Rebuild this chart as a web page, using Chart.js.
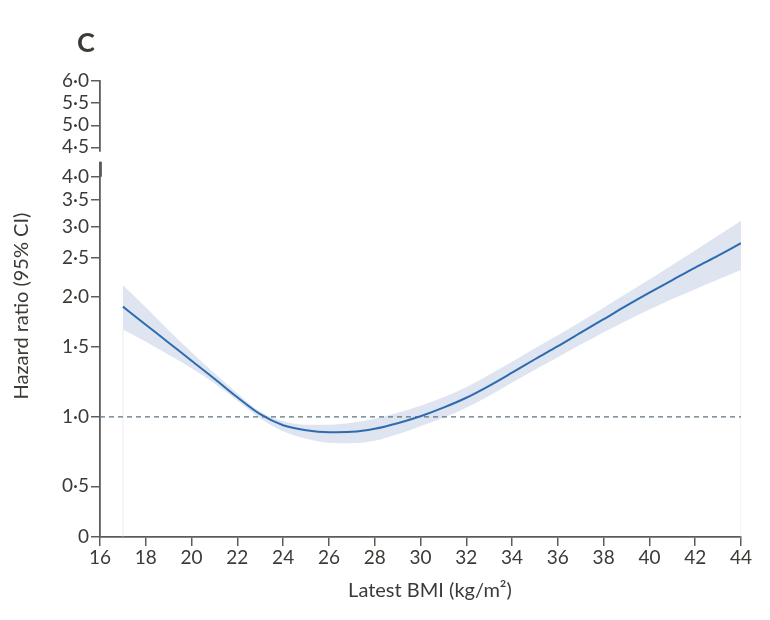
<!DOCTYPE html>
<html>
<head>
<meta charset="utf-8">
<script src="https://cdn.jsdelivr.net/npm/chart.js@4/dist/chart.umd.min.js"></script>
<style>
  html, body { margin: 0; padding: 0; background: #ffffff; }
  #wrap { position: absolute; left: 0; top: 0; width: 770px; height: 620px; }
</style>
</head>
<body>
<div id="wrap"><canvas id="c" width="770" height="620"></canvas></div>
<script>
// ---- Data ----
const bmi = [17,18,19,20,21,22,23,24,25,26,27,28,29,30,31,32,33,34,35,36,37,38,39,40,41,42,43,44];
const hazardRatio = [1.89,1.703,1.535,1.383,1.247,1.12,1.016,0.94,0.904,0.89,0.893,0.915,0.955,1.004,1.055,1.117,1.197,1.291,1.395,1.504,1.627,1.758,1.901,2.049,2.203,2.368,2.537,2.727];
const upperCI = [2.14,1.884,1.65,1.453,1.287,1.147,1.03,0.969,0.944,0.944,0.958,0.987,1.024,1.067,1.12,1.187,1.276,1.376,1.487,1.603,1.733,1.879,2.038,2.209,2.402,2.612,2.848,3.102];
const lowerCI = [1.657,1.544,1.432,1.325,1.215,1.098,0.991,0.897,0.843,0.814,0.81,0.828,0.875,0.933,0.994,1.055,1.13,1.219,1.313,1.412,1.518,1.631,1.743,1.858,1.974,2.091,2.209,2.334];
const referenceHR = 1;
const yTickValues = [0,0.5,1,1.5,2,2.5,3,3.5,4,4.5,5,5.5,6];
const yTickLabels = ["0","0·5","1·0","1·5","2·0","2·5","3·0","3·5","4·0","4·5","5·0","5·5","6·0"];
const axisBreak = [4.255, 4.425];
const xMin = 16, xMax = 44, xStep = 2;

// ---- Axis transform (the printed axis is piecewise: linear below 1, log between 1 and 4, compressed above 4) ----
function interp(v, a) {
  for (let i = 0; i < a.length - 1; i++) {
    if (v <= a[i+1][0]) {
      const t = (v - a[i][0]) / (a[i+1][0] - a[i][0]);
      return a[i][1] + t * (a[i+1][1] - a[i][1]);
    }
  }
  return a[a.length-1][1];
}
const lowAnchors = [[0,0],[0.5,50.7],[1,120]];
const highAnchors = [[4,360],[4.5,389.4],[5,411.4],[5.5,434],[6,455.7]];
function P(v) {
  if (v < 1) return interp(v, lowAnchors);
  if (v <= 4) return 120 + 120 * Math.log2(v);
  return interp(v, highAnchors);
}

const pts = (ys) => bmi.map((x, i) => ({ x: x, y: P(ys[i]) }));

const textColor = '#3d3a36';
const axisColor = '#5c5c5c';
const FONT = 'Lato, "Open Sans", sans-serif';

const titlesPlugin = {
  id: 'titles',
  afterDraw(chart) {
    const ctx = chart.ctx;
    const ys = chart.scales.y, xs = chart.scales.x;
    // axis break between the two y-axis segments
    const xAxis = xs.left;
    const yTop = ys.getPixelForValue(P(axisBreak[1]));
    const yBot = ys.getPixelForValue(P(axisBreak[0]));
    const y4 = ys.getPixelForValue(P(4));
    ctx.save();
    ctx.fillStyle = '#ffffff';
    ctx.fillRect(xAxis - 2, yTop, 4, yBot - yTop);
    ctx.strokeStyle = axisColor;
    ctx.lineWidth = 2.6;
    ctx.beginPath();
    ctx.moveTo(xAxis + 0.6, yBot);
    ctx.lineTo(xAxis + 0.6, y4);
    ctx.stroke();
    ctx.restore();

    ctx.save();
    ctx.fillStyle = textColor;
    ctx.font = 'bold 27px ' + FONT;
    ctx.textAlign = 'left';
    ctx.textBaseline = 'middle';
    ctx.fillText('C', 77, 43);
    ctx.font = '20px ' + FONT;
    ctx.textAlign = 'center';
    ctx.fillText('Latest BMI (kg/m²)', 430, 591);
    ctx.translate(22, 306);
    ctx.rotate(-Math.PI / 2);
    ctx.fillText('Hazard ratio (95% CI)', 0, 0);
    ctx.restore();
  }
};

new Chart(document.getElementById('c'), {
  type: 'line',
  data: {
    datasets: [
      { label: 'HR', order: 0, data: pts(hazardRatio), borderColor: '#2d6bb0', borderWidth: 2, pointRadius: 0, fill: false, cubicInterpolationMode: 'monotone' },
      { label: 'ref', order: 1, data: [{x: xMin, y: P(referenceHR)}, {x: xMax, y: P(referenceHR)}], borderColor: '#5f7380', borderWidth: 1.3, borderDash: [5, 4], pointRadius: 0, fill: false },
      { label: 'upper', order: 2, data: pts(upperCI), borderWidth: 0, borderColor: 'rgba(0,0,0,0)', backgroundColor: '#dee4f0', pointRadius: 0, fill: '+1', cubicInterpolationMode: 'monotone' },
      { label: 'lower', order: 3, data: pts(lowerCI), borderWidth: 0, borderColor: 'rgba(0,0,0,0)', pointRadius: 0, fill: false, cubicInterpolationMode: 'monotone' },
      { label: 'edgeL', order: 4, data: [{x: bmi[0], y: 0}, {x: bmi[0], y: P(lowerCI[0])}], borderColor: 'rgba(214,221,235,0.55)', borderWidth: 1, pointRadius: 0, fill: false },
      { label: 'edgeR', order: 5, data: [{x: bmi[bmi.length-1], y: 0}, {x: bmi[bmi.length-1], y: P(lowerCI[lowerCI.length-1])}], borderColor: 'rgba(214,221,235,0.55)', borderWidth: 1, pointRadius: 0, fill: false }
    ]
  },
  options: {
    responsive: false,
    animation: false,
    events: [],
    layout: { padding: { left: 0, top: 81, right: 29, bottom: 0 } },
    plugins: { legend: { display: false }, tooltip: { enabled: false } },
    scales: {
      x: {
        type: 'linear', min: xMin, max: xMax,
        afterFit: (s) => { s.height = 83; },
        ticks: { stepSize: xStep, color: textColor, font: { family: FONT, size: 19 }, padding: 0, maxRotation: 0, autoSkip: false },
        grid: { drawOnChartArea: false, drawTicks: true, tickLength: 9, color: axisColor, lineWidth: 1.5 },
        border: { display: true, color: axisColor, width: 1.8 }
      },
      y: {
        type: 'linear', min: 0, max: P(6),
        afterFit: (s) => { s.width = 100; },
        afterBuildTicks: (s) => { s.ticks = yTickValues.map(v => ({ value: P(v) })); },
        ticks: {
          color: textColor, font: { family: FONT, size: 19 }, padding: 2, autoSkip: false,
          callback: (val, i) => yTickLabels[i]
        },
        grid: { drawOnChartArea: false, drawTicks: true, tickLength: 9, color: axisColor, lineWidth: 1.5 },
        border: { display: true, color: axisColor, width: 1.8 }
      }
    }
  },
  plugins: [titlesPlugin]
});
</script>
</body>
</html>
